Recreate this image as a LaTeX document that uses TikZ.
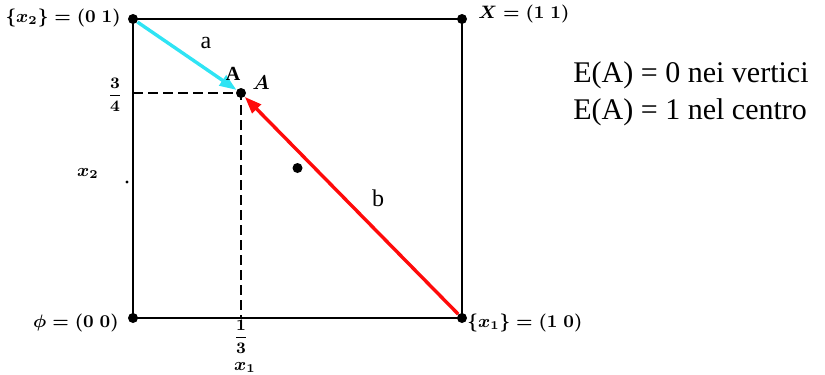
\documentclass[tikz,border=0pt]{standalone}
\usepackage{fontspec}
\setmainfont{Liberation Serif}
\usetikzlibrary{arrows.meta}
\definecolor{veccyan}{HTML}{2FE4F4}
\definecolor{vecred}{HTML}{FF0A0A}

\begin{document}
\begin{tikzpicture}[x=0.5pt, y=-0.5pt,
        every node/.style={inner sep=0pt},
        vtx/.style={circle, fill=black, minimum size=5pt, inner sep=0pt},
        side/.style={draw=black, line width=1.3pt},
        guide/.style={draw=black, line width=1pt, dashed, dash pattern=on 5pt off 2.5pt},
        vec/.style={-{Triangle[length=8.5pt,width=6pt]}, line width=1.7pt},
        lbl/.style={font=\fontsize{9}{10}\selectfont\boldmath},
        frc/.style={font=\fontsize{8}{10}\selectfont\boldmath},
        ltr/.style={font=\fontsize{12}{14}\selectfont},
        txt/.style={font=\fontsize{15}{18}\selectfont, anchor=base west},
      ]
      \useasboundingbox (0,0) rectangle (825,375);

      % vertices of the unit square
      \node[vtx] (o)  at (133,318) {};
      \node[vtx] (e1) at (462,318) {};
      \node[vtx] (x)  at (462,19)  {};
      \node[vtx] (e2) at (133,19)  {};
      \node[vtx] (pa) at (241,93)  {};
      \node[vtx] (mid) at (297.5,168) {};
      \node[vtx, minimum size=1.6pt] (tick) at (127,182) {};

      \draw[side] (o.center) -- (e1.center) -- (x.center) -- (e2.center) -- cycle;

      % projections of A
      \coordinate (pax) at (pa.center |- o.center);
      \coordinate (pay) at (pa.center -| o.center);
      \draw[guide] (pay) -- (pa.center) -- (pax);

      \draw[vec, veccyan] (e2) -- (pa);
      \draw[vec, vecred] (e1) -- (pa);

      % labels
      \node[lbl, anchor=east] (l01) at (121,18)  {$\{x_2\} = (0\;1)$};
      \node[lbl, anchor=west] (l11) at (478,14)  {$X = (1\;1)$};
      \node[lbl, anchor=east] (l00) at (119,323) {$\phi = (0\;0)$};
      \node[lbl, anchor=west] (l10) at (467,323) {$\{x_1\} = (1\;0)$};
      \node[frc] (q34) at (115,95)  {$\displaystyle\frac{3}{4}$};
      \node[frc] (q13) at (241,337) {$\displaystyle\frac{1}{3}$};
      \node[lbl] (ax1) at (245,367) {$x_1$};
      \node[lbl] (ax2) at (88,173)  {$x_2$};
      \node[font=\fontsize{10}{12}\selectfont\bfseries] (na) at (233,74) {A};
      \node[font=\fontsize{10}{12}\selectfont\boldmath] (nai) at (261,83) {$A$};
      \node[ltr] (la) at (206,43)  {a};
      \node[ltr] (lb) at (378,198) {b};

      \node[txt] (ev) at (573,82)  {E(A) = 0 nei vertici};
      \node[txt] (ec) at (573,119) {E(A) = 1 nel centro};
    \end{tikzpicture}
\end{document}
